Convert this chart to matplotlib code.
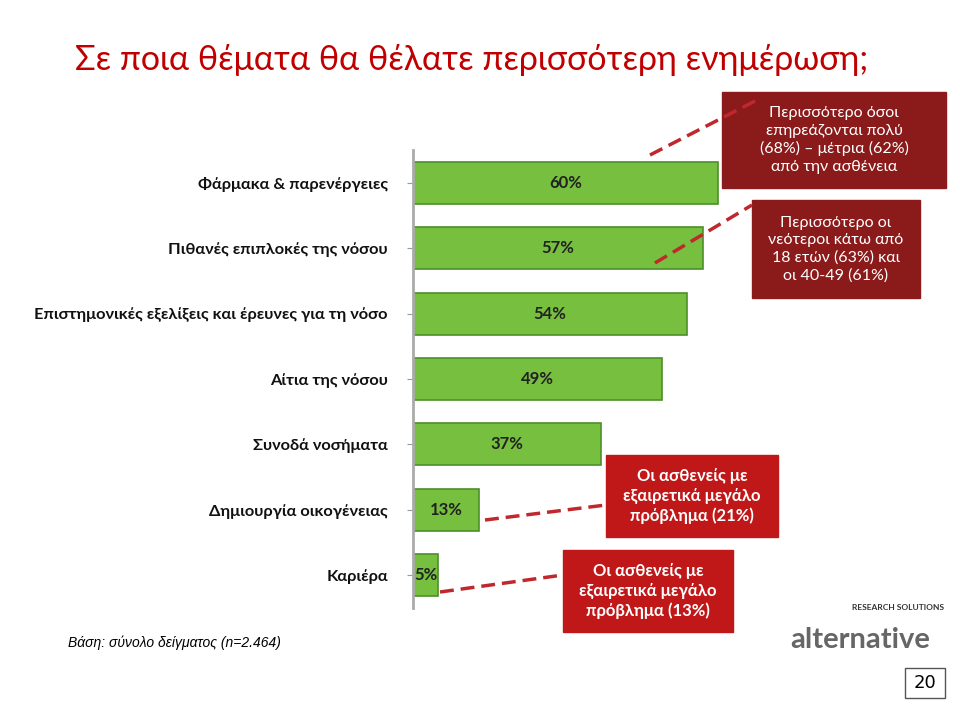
import matplotlib
matplotlib.use("Agg")
import matplotlib.pyplot as plt
from matplotlib.patches import Rectangle

categories = ["Φάρμακα & παρενέργειες", "Πιθανές επιπλοκές της νόσου",
              "Επιστημονικές εξελίξεις και έρευνες για τη νόσο", "Αίτια της νόσου",
              "Συνοδά νοσήματα", "Δημιουργία οικογένειας", "Καριέρα"]
values = [60, 57, 54, 49, 37, 13, 5]
value_labels = ["60%", "57%", "54%", "49%", "37%", "13%", "5%"]

W, H = 960, 716
fig = plt.figure(figsize=(9.6, 7.16), dpi=100)
fig.patch.set_facecolor("white")
FONT = "Lato"

def fx(px): return px / W
def fy(py): return 1 - py / H

ax = fig.add_axes([fx(413), fy(608), 508 / W, 458 / H])
ypos = list(range(len(categories)))
ax.barh(ypos, values, height=0.64, color="#76bf3f", edgecolor="#4e8f2a", linewidth=1.2)
for y, v, lab in zip(ypos, values, value_labels):
    ax.text(v / 2, y, lab, ha="center", va="center", fontsize=12, fontweight="bold",
            color="#222222", family=FONT)
ax.set_xlim(0, 100)
ax.set_ylim(6.5, -0.5)
ax.set_yticks(ypos)
ax.set_yticklabels(categories, fontsize=11.8, fontweight="bold", family=FONT, color="#111111")
ax.tick_params(axis="y", length=4, pad=14, color="#999999")
ax.set_xticks([])
for s in ["top", "right", "bottom"]:
    ax.spines[s].set_visible(False)
ax.spines["left"].set_color("#aaaaaa")
ax.spines["left"].set_linewidth(2)
ax.set_facecolor("none")

fig.text(fx(75), fy(60), "Σε ποια θέματα θα θέλατε περισσότερη ενημέρωση;", fontsize=24.5,
         color="#c00000", family=FONT, va="center")

def box(x0, y0, x1, y1, color, text, fs, tcol="white", bold=False):
    fig.patches.append(Rectangle((fx(x0), fy(y1)), fx(x1 - x0), (y1 - y0) / H,
                                 transform=fig.transFigure, color=color, zorder=1))
    fig.text(fx((x0 + x1) / 2), fy((y0 + y1) / 2), text, ha="center", va="center",
             fontsize=fs, color=tcol, family=FONT, fontweight="bold" if bold else "normal",
             linespacing=1.3, zorder=2)

box(722, 92, 946, 188, "#8b1a1a",
    "Περισσότερο όσοι\nεπηρεάζονται πολύ\n(68%) – μέτρια (62%)\nαπό την ασθένεια", 11.5)
box(752, 200, 920, 298, "#8b1a1a",
    "Περισσότερο οι\nνεότεροι κάτω από\n18 ετών (63%) και\nοι 40-49 (61%)", 11.5)
box(606, 455, 778, 537, "#c01818",
    "Οι ασθενείς με\nεξαιρετικά μεγάλο\nπρόβλημα (21%)", 12, bold=True)
box(563, 550, 733, 632, "#c01818",
    "Οι ασθενείς με\nεξαιρετικά μεγάλο\nπρόβλημα (13%)", 12, bold=True)

def dline(x0, y0, x1, y1):
    fig.add_artist(plt.Line2D([fx(x0), fx(x1)], [fy(y0), fy(y1)], transform=fig.transFigure,
                              color="#c0282d", lw=2.5, ls=(0, (4, 2))))

dline(650, 155, 757, 100)
dline(655, 263, 752, 205)
dline(485, 520, 606, 505)
dline(440, 592, 563, 575)

fig.text(fx(68), fy(643), "Βάση: σύνολο δείγματος (n=2.464)", fontsize=10, style="italic",
         family="Liberation Sans", va="center")

fig.text(fx(852), fy(607), "RESEARCH SOLUTIONS", fontsize=6, fontweight="bold", family=FONT,
         color="#333333", va="center")
fig.text(fx(790), fy(640), "alternative", fontsize=21, fontweight="bold", family=FONT,
         color="#666666", va="center")

fig.patches.append(Rectangle((fx(905), fy(698)), fx(40), 30 / H, transform=fig.transFigure,
                             facecolor="white", edgecolor="#555555", lw=1))
fig.text(fx(925), fy(683), "20", fontsize=13, ha="center", va="center", family="DejaVu Sans")

fig.savefig("out.png", dpi=100)
